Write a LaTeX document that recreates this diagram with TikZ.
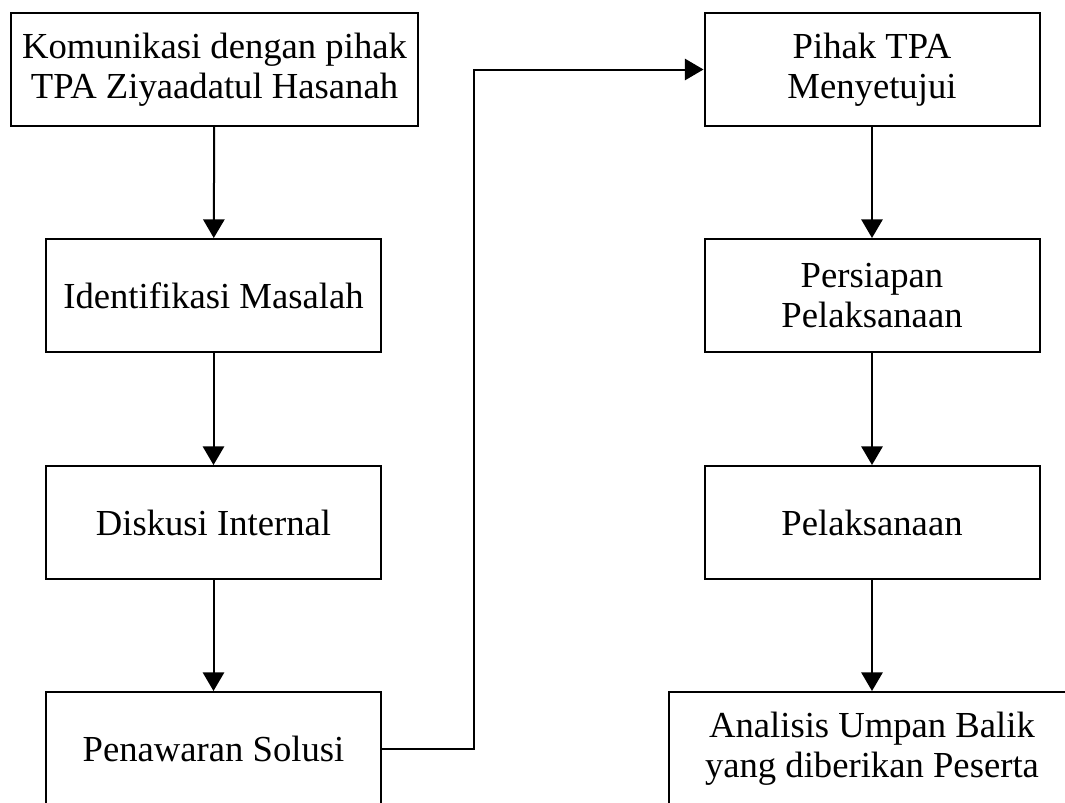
\documentclass[tikz,border=0pt]{standalone}
\usepackage{fontspec}
\setmainfont{Liberation Serif}
\usetikzlibrary{arrows.meta}

\tikzset{
    langkah/.style={draw, rectangle, line width=1.5pt, inner sep=0pt,
        minimum width=251.25pt, minimum height=84.75pt,
        font=\fontsize{27.5}{30}\selectfont},
    panah/.style={line width=1.5pt, -{Triangle[length=14pt,width=16pt]}}
}

\begin{document}
\begin{tikzpicture}[x=0.75pt, y=-0.75pt]
    \clip (0,0) rectangle (1065,803);

    % Kolom kiri
    \node[langkah, minimum width=305.25pt] (komunikasi) at (214.5,69.5) {\parbox{300pt}{\centering Komunikasi dengan pihak\\TPA Ziyaadatul Hasanah}};
    \node[langkah] (identifikasi) at (213.5,295.5) {\parbox{245pt}{\centering Identifikasi Masalah}};
    \node[langkah] (diskusi) at (213.5,522.5) {\parbox{245pt}{\centering Diskusi Internal}};
    \node[langkah] (solusi) at (213.5,748.5) {\parbox{245pt}{\centering Penawaran Solusi}};

    % Kolom kanan
    \node[langkah] (setuju) at (872,69.5) {\parbox{245pt}{\centering Pihak TPA\\Menyetujui}};
    \node[langkah] (persiapan) at (872,295.5) {\parbox{245pt}{\centering Persiapan\\Pelaksanaan}};
    \node[langkah] (pelaksanaan) at (872,522.5) {\parbox{245pt}{\centering Pelaksanaan}};
    \node[langkah, minimum width=304.5pt] (analisis) at (872,748.5) {\parbox{300pt}{\centering Analisis Umpan Balik\\yang diberikan Peserta}};

    % Panah
    \draw[panah] (komunikasi) -- (identifikasi);
    \draw[panah] (identifikasi) -- (diskusi);
    \draw[panah] (diskusi) -- (solusi);
    \draw[panah] (solusi.east) -- ++(92,0) |- (setuju.west);
    \draw[panah] (setuju) -- (persiapan);
    \draw[panah] (persiapan) -- (pelaksanaan);
    \draw[panah] (pelaksanaan) -- (analisis);
\end{tikzpicture}
\end{document}
